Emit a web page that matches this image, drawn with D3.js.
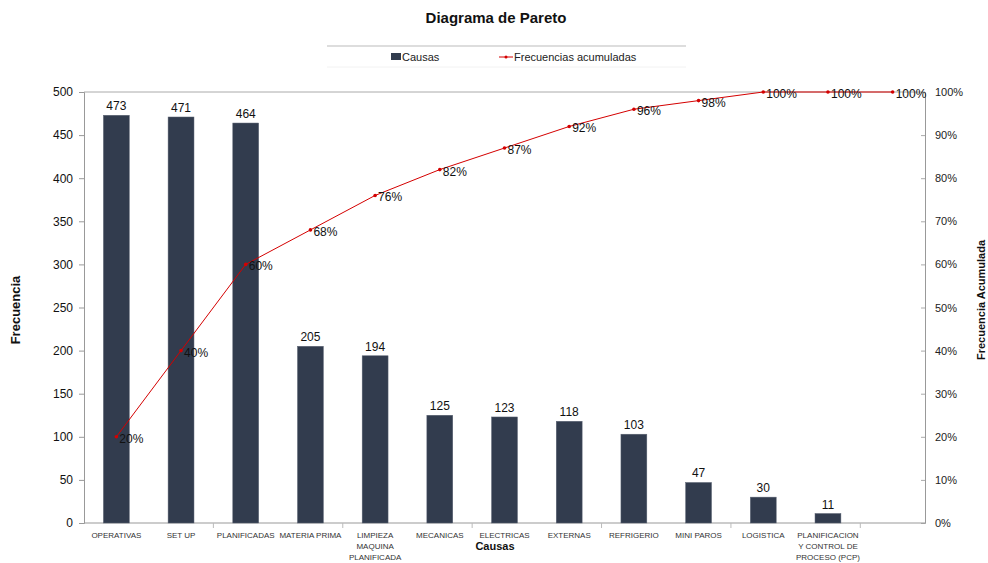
<!DOCTYPE html>
<html>
<head>
<meta charset="utf-8">
<script src="https://cdn.jsdelivr.net/npm/d3@7"></script>
<style>
  body { margin: 0; background: #fff; }
  svg { font-family: "Liberation Sans", Arial, sans-serif; }
</style>
</head>
<body>
<svg id="chart" width="988" height="563"></svg>
<script>
// data
const causes = ["OPERATIVAS", "SET UP", "PLANIFICADAS", "MATERIA PRIMA", "LIMPIEZA MAQUINA PLANIFICADA",
  "MECANICAS", "ELECTRICAS", "EXTERNAS", "REFRIGERIO", "MINI PAROS", "LOGISTICA",
  "PLANIFICACION Y CONTROL DE PROCESO (PCP)", ""];
const causeLines = [["OPERATIVAS"], ["SET UP"], ["PLANIFICADAS"], ["MATERIA PRIMA"], ["LIMPIEZA", "MAQUINA", "PLANIFICADA"],
  ["MECANICAS"], ["ELECTRICAS"], ["EXTERNAS"], ["REFRIGERIO"], ["MINI PAROS"], ["LOGISTICA"],
  ["PLANIFICACION", "Y CONTROL DE", "PROCESO (PCP)"], []];
const counts = [473, 471, 464, 205, 194, 125, 123, 118, 103, 47, 30, 11];
const cumPct = [20, 40, 60, 68, 76, 82, 87, 92, 96, 98, 100, 100, 100];
const leftTicks = d3.range(0, 501, 50);
const rightTicks = d3.range(0, 101, 10);

const svg = d3.select("#chart");
const m = { left: 84, right: 925, top: 92, bottom: 523 };

const x = d3.scaleBand().domain(d3.range(causes.length)).range([m.left, m.right]).paddingInner(0).paddingOuter(0);
const y = d3.scaleLinear().domain([0, 500]).range([m.bottom, m.top]);
const y2 = d3.scaleLinear().domain([0, 100]).range([m.bottom, m.top]);
const barW = x.bandwidth() * 0.4;
const cx = i => x(i) + x.bandwidth() / 2;

// title
svg.append("text").attr("x", 496).attr("y", 23).attr("text-anchor", "middle")
  .attr("font-size", 15).attr("font-weight", "bold").attr("fill", "#111").text("Diagrama de Pareto");

// legend
svg.append("line").attr("x1", 327).attr("x2", 686).attr("y1", 46).attr("y2", 46).attr("stroke", "#bbb");
svg.append("line").attr("x1", 327).attr("x2", 686).attr("y1", 67).attr("y2", 67).attr("stroke", "#f2f2f2");
svg.append("rect").attr("x", 391).attr("y", 53).attr("width", 10).attr("height", 7).attr("fill", "#323c4e");
svg.append("text").attr("x", 402).attr("y", 61).attr("font-size", 11).attr("fill", "#222").text("Causas");
svg.append("line").attr("x1", 499).attr("x2", 513).attr("y1", 57).attr("y2", 57).attr("stroke", "#d40000");
svg.append("circle").attr("cx", 506).attr("cy", 57).attr("r", 1.5).attr("fill", "#d40000");
svg.append("text").attr("x", 514).attr("y", 61).attr("font-size", 11).attr("fill", "#222").text("Frecuencias acumuladas");

// frame lines
svg.append("line").attr("x1", m.left).attr("x2", m.right).attr("y1", m.top).attr("y2", m.top).attr("stroke", "#aaa");

// left axis
const gl = svg.append("g").attr("transform", `translate(${m.left},0)`)
  .call(d3.axisLeft(y).tickValues(leftTicks).tickSize(5).tickPadding(6));
gl.select(".domain").attr("stroke", "#999");
gl.selectAll(".tick line").attr("stroke", "#999");
gl.selectAll(".tick text").attr("font-size", 12).attr("fill", "#111").attr("font-family", "Liberation Sans, Arial, sans-serif");

// right axis (ticks inside)
const gr = svg.append("g").attr("transform", `translate(${m.right},0)`)
  .call(d3.axisRight(y2).tickValues(rightTicks).tickSize(-4).tickPadding(10).tickFormat(d => d + "%"));
gr.select(".domain").attr("stroke", "#999");
gr.selectAll(".tick line").attr("stroke", "#aaa");
gr.selectAll(".tick text").attr("font-size", 11).attr("fill", "#222").attr("font-family", "Liberation Sans, Arial, sans-serif");

// bottom axis
svg.append("line").attr("x1", m.left).attr("x2", m.right).attr("y1", m.bottom).attr("y2", m.bottom).attr("stroke", "#999");
svg.selectAll(".xtick").data(d3.range(2, causes.length, 2)).enter().append("line")
  .attr("x1", d => x(d)).attr("x2", d => x(d)).attr("y1", m.bottom).attr("y2", m.bottom + 5)
  .attr("stroke", "#bbb");

const xl = svg.selectAll(".xlab").data(causeLines).enter().append("text")
  .attr("font-size", 8).attr("fill", "#333").attr("text-anchor", "middle");
xl.each(function(lines, i) {
  d3.select(this).selectAll("tspan").data(lines).enter().append("tspan")
    .attr("x", cx(i)).attr("y", (d, j) => 538 + j * 11).text(d => d);
});

// bars
svg.selectAll(".bar").data(counts).enter().append("rect")
  .attr("x", (d, i) => cx(i) - barW / 2).attr("y", d => y(d))
  .attr("width", barW).attr("height", d => y(0) - y(d))
  .attr("fill", "#323c4e").attr("stroke", "#5a6272").attr("stroke-width", 0.5);

svg.selectAll(".blab").data(counts).enter().append("text")
  .attr("x", (d, i) => cx(i)).attr("y", d => y(d) - 5)
  .attr("text-anchor", "middle").attr("font-size", 12).attr("fill", "#111").text(d => d);

// cumulative line
const line = d3.line().x((d, i) => cx(i)).y(d => y2(d));
svg.append("path").datum(cumPct).attr("d", line).attr("fill", "none").attr("stroke", "#d40000").attr("stroke-width", 1);
svg.selectAll(".pt").data(cumPct).enter().append("circle")
  .attr("cx", (d, i) => cx(i)).attr("cy", d => y2(d)).attr("r", 1.8).attr("fill", "#d40000");
svg.selectAll(".plab").data(cumPct).enter().append("text")
  .attr("x", (d, i) => cx(i) + 3).attr("y", d => y2(d) + 6)
  .attr("font-size", 12).attr("fill", "#111").text(d => d + "%");

// axis titles
svg.append("text").attr("transform", "translate(20,310) rotate(-90)").attr("text-anchor", "middle")
  .attr("font-size", 13).attr("font-weight", "bold").attr("fill", "#111").text("Frecuencia");
svg.append("text").attr("transform", "translate(985,300) rotate(-90)").attr("text-anchor", "middle")
  .attr("font-size", 11).attr("font-weight", "bold").attr("fill", "#111").text("Frecuencia Acumulada");
svg.append("text").attr("x", 495).attr("y", 550).attr("text-anchor", "middle")
  .attr("font-size", 11).attr("font-weight", "bold").attr("fill", "#111").text("Causas");
</script>
</body>
</html>
